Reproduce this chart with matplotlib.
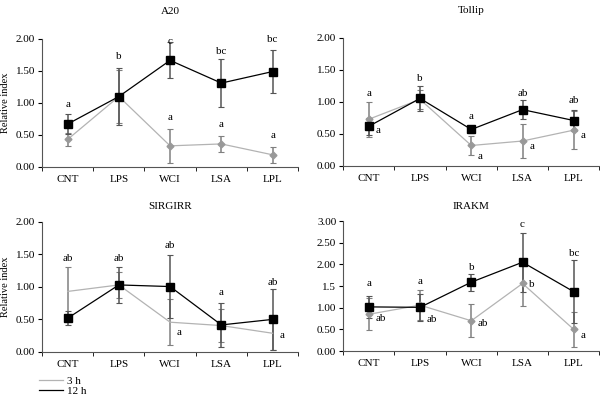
import matplotlib
matplotlib.use('Agg')
import matplotlib.pyplot as plt
from matplotlib.lines import Line2D

plt.rcParams['font.family'] = ['Liberation Serif', 'DejaVu Serif']
plt.rcParams['font.size'] = 8

categories = ['CNT', 'LPS', 'WCI', 'LSA', 'LPL']

# A20
a20_3h = [0.43, 1.10, 0.33, 0.36, 0.19]
a20_3h_err = [0.10, 0.42, 0.27, 0.13, 0.125]
a20_12h = [0.67, 1.10, 1.665, 1.31, 1.49]
a20_12h_err = [0.15, 0.44, 0.28, 0.37, 0.33]
a20_letters = [(0, 'a', 0.98, 'c'), (1, 'b', 1.72, 'c'), (2, 'c', 1.96, 'c'),
               (3, 'bc', 1.81, 'c'), (4, 'bc', 1.99, 'c'), (2, 'a', 0.77, 'c'),
               (3, 'a', 0.665, 'c'), (4, 'a', 0.49, 'c')]

# Tollip
tollip_3h = [0.73, 1.04, 0.32, 0.39, 0.56]
tollip_3h_err = [0.27, 0.15, 0.15, 0.27, 0.30]
tollip_12h = [0.62, 1.055, 0.57, 0.88, 0.71]
tollip_12h_err = [0.13, 0.20, 0.06, 0.15, 0.17]
tollip_letters = [(0, 'a', 1.135, 'c'), (0, 'a', 0.56, 'r'), (1, 'b', 1.37, 'c'),
                  (2, 'a', 0.77, 'c'), (2, 'a', 0.145, 'r'), (3, 'ab', 1.135, 'c'),
                  (3, 'a', 0.31, 'r'), (4, 'ab', 1.02, 'c'), (4, 'a', 0.48, 'r')]

# SIRGIRR
sirgirr_3h = [0.93, 1.03, 0.457, 0.405, 0.287]
sirgirr_3h_err = [0.37, 0.20, 0.35, 0.25, 0.26]
sirgirr_12h = [0.518, 1.03, 1.005, 0.415, 0.50]
sirgirr_12h_err = [0.11, 0.28, 0.48, 0.34, 0.465]
sirgirr_letters = [(0, 'ab', 1.43, 'c'), (1, 'ab', 1.44, 'c'), (2, 'ab', 1.63, 'c'),
                   (3, 'a', 0.91, 'c'), (4, 'ab', 1.07, 'c'), (2, 'a', 0.30, 'r'),
                   (4, 'a', 0.26, 'r')]

# IRAKM
irakm_3h = [0.85, 1.06, 0.70, 1.56, 0.50]
irakm_3h_err = [0.37, 0.35, 0.38, 0.52, 0.40]
irakm_12h = [1.02, 1.01, 1.59, 2.05, 1.37]
irakm_12h_err = [0.26, 0.31, 0.20, 0.68, 0.73]
irakm_letters = [(0, 'a', 1.56, 'c'), (0, 'ab', 0.75, 'r'), (1, 'a', 1.60, 'c'),
                 (1, 'ab', 0.73, 'r'), (2, 'b', 1.92, 'c'), (2, 'ab', 0.63, 'r'),
                 (3, 'c', 2.91, 'c'), (3, 'b', 1.54, 'r'), (4, 'bc', 2.25, 'c'),
                 (4, 'a', 0.37, 'r')]

c3 = '#b3b3b3'
c3m = '#999999'
c12 = 'black'


def draw_panel(ax, title, s3, e3, s12, e12, letters, ymax, yticklabels,
               ylabel=False, pad=16, diamonds=True):
    x = list(range(len(categories)))
    ax.errorbar(x, s3, yerr=e3, fmt='none', ecolor='#808080', elinewidth=1.1,
                capsize=2.5, capthick=0.8, zorder=2)
    ax.errorbar(x, s12, yerr=e12, fmt='none', ecolor='#555555', elinewidth=1.1,
                capsize=2.5, capthick=0.8, zorder=2)
    ax.plot(x, s3, color=c3, lw=0.9, marker='D' if diamonds else None,
            ms=3.5, mfc=c3m, mec=c3m, zorder=3)
    ax.plot(x, s12, color=c12, lw=0.9, marker='s', ms=5.5, mfc='black',
            mec='black', zorder=4)
    for i, txt, y, side in letters:
        if side == 'c':
            ax.text(i, y, txt, ha='center', va='center')
        else:
            ax.text(i + 0.13, y, txt, ha='left', va='center')
    ax.set_xlim(-0.5, len(categories) - 0.5)
    ax.set_ylim(0, ymax)
    ax.set_xticks(x)
    ax.set_xticklabels(categories)
    ax.set_xticks([i - 0.5 for i in range(len(categories) + 1)], minor=True)
    ax.tick_params(axis='x', which='major', length=0, pad=6)
    ax.tick_params(axis='x', which='minor', length=3, direction='out')
    ax.tick_params(axis='y', length=3, direction='out', pad=2)
    ax.set_yticks([i * 0.5 for i in range(len(yticklabels))])
    ax.set_yticklabels(yticklabels)
    for s in ['top', 'right']:
        ax.spines[s].set_visible(False)
    for s in ['left', 'bottom']:
        ax.spines[s].set_color('#555555')
        ax.spines[s].set_linewidth(0.8)
    ax.set_title(title, pad=pad, fontsize=8)
    if ylabel:
        ax.set_ylabel('Relative index', fontsize=7.5)
        ax.yaxis.set_label_coords(-0.125, 0.5)


fig = plt.figure(figsize=(6, 3.99), dpi=100)
ax1 = fig.add_axes([0.07, 0.5815, 0.427, 0.321])
ax2 = fig.add_axes([0.572, 0.584, 0.427, 0.321])
ax3 = fig.add_axes([0.07, 0.118, 0.427, 0.326])
ax4 = fig.add_axes([0.572, 0.12, 0.427, 0.326])

lab2 = ['0.00', '0.50', '1.00', '1.50', '2.00']
lab3 = ['0.00', '0.50', '1.00', '1.5', '2.00', '2.50', '3.00']

draw_panel(ax1, 'A20', a20_3h, a20_3h_err, a20_12h, a20_12h_err,
           a20_letters, 2.0, lab2, ylabel=True, pad=18)
draw_panel(ax2, 'Tollip', tollip_3h, tollip_3h_err, tollip_12h, tollip_12h_err,
           tollip_letters, 2.0, lab2, pad=18)
draw_panel(ax3, 'SIRGIRR', sirgirr_3h, sirgirr_3h_err, sirgirr_12h,
           sirgirr_12h_err, sirgirr_letters, 2.0, lab2, ylabel=True, pad=9,
           diamonds=False)
draw_panel(ax4, 'IRAKM', irakm_3h, irakm_3h_err, irakm_12h, irakm_12h_err,
           irakm_letters, 3.0, lab3, pad=9)

handles = [Line2D([], [], color=c3, lw=0.9), Line2D([], [], color=c12, lw=0.9)]
fig.legend(handles, ['3 h', '12 h'], loc='upper left',
           bbox_to_anchor=(0.055, 1 - 371 / 399), frameon=False,
           handlelength=2.2, handletextpad=0.4, labelspacing=0.0,
           borderpad=0, fontsize=8)

fig.savefig('out.png', dpi=100)
